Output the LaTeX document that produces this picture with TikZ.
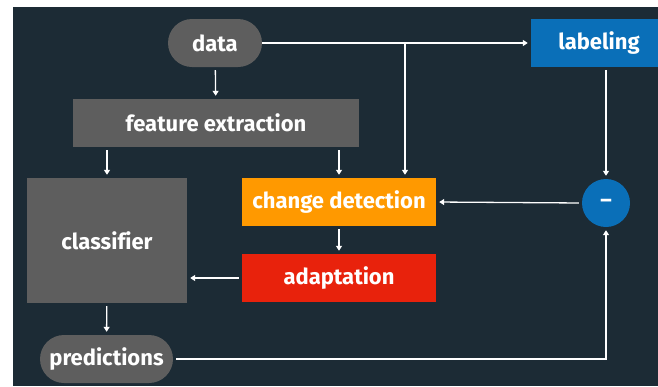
\documentclass[tikz,border=0pt]{standalone}
\usepackage{fontspec}
\setsansfont{Fira Sans}[Ligatures=NoCommon]
\usepackage{tikz}
\usetikzlibrary{arrows.meta}
\definecolor{bgdark}{HTML}{1C2B35}
\definecolor{boxgrey}{HTML}{5E5E5E}
\definecolor{detorange}{HTML}{FF9900}
\definecolor{adared}{HTML}{E8220C}
\definecolor{lblblue}{HTML}{0A6FB8}

\begin{document}
\begin{tikzpicture}[x=1pt,y=-1pt,
		box/.style={fill=boxgrey, text=white, inner sep=0pt, minimum height=48pt,
			font=\sffamily\bfseries\fontsize{22}{24}\selectfont},
		pill/.style={box, rounded corners=24pt},
		flow/.style={draw=white, line width=1.3pt, shorten <=3pt, shorten >=3pt,
			-{Triangle[length=5pt,width=6pt]}}]
			\useasboundingbox (0,0) rectangle (658,386);
			\fill[white] (0,0) rectangle (658,386);
			\fill[bgdark] (13,7) rectangle (658,386);
			\node[pill, minimum width=94pt] (data) at (215,43) {data};
			\node[box, minimum width=286pt] (feat) at (216,123) {feature extraction};
			\node[box, minimum width=160pt, minimum height=125pt] (clf) at (107,240.5) {classifier};
			\node[box, fill=detorange, minimum width=194pt] (change) at (339,202) {change detection};
			\node[box, fill=adared, minimum width=194pt] (adapt) at (339,278) {adaptation};
			\node[pill, minimum width=133pt] (pred) at (106.5,359) {predictions};
			\node[box, fill=lblblue, minimum width=136pt] (label) at (599,43) {labeling};
			\node[box, fill=lblblue, circle, minimum size=48pt] (minus) at (606,203) {–};
			\coordinate (split) at (405,43);
			\draw[flow, shorten <=0pt] (data.east) -- (label.west);
			\draw[flow, shorten <=0pt] (split) -- (split |- change.north);
			\draw[flow] (data) -- (feat);
			\draw[flow] (feat.south -| clf) -- (clf.north);
			\draw[flow] (feat.south -| change) -- (change.north);
			\draw[flow] (label.south -| minus) -- (minus.north);
			\draw[flow] (minus.west) -- (change.east);
			\draw[flow] (change) -- (adapt);
			\draw[flow] (adapt.west) -- (adapt.west -| clf.east);
			\draw[flow] (clf) -- (pred);
			\draw[flow] (pred.east) -| (minus.south);
		\end{tikzpicture}
\end{document}
